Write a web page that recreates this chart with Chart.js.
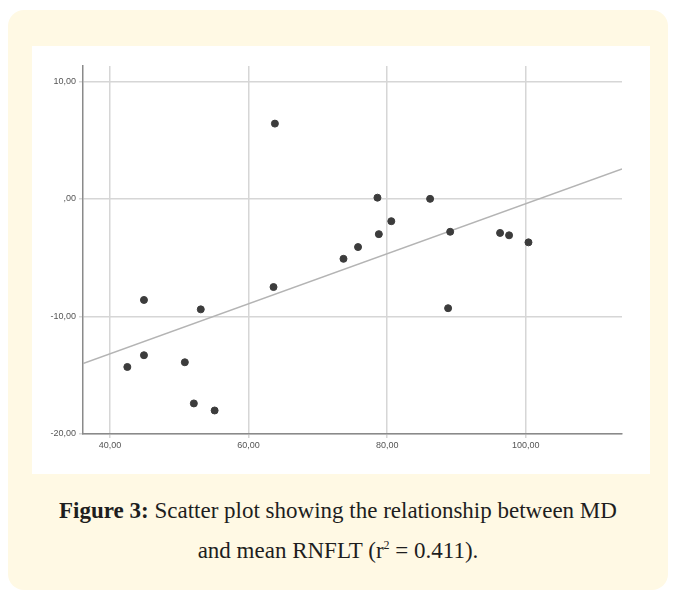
<!DOCTYPE html>
<html>
<head>
<meta charset="utf-8">
<script src="https://cdn.jsdelivr.net/npm/chart.js@4.4.0/dist/chart.umd.min.js"></script>
<style>
  html, body { margin: 0; padding: 0; background: #fff; }
  body { width: 676px; height: 602px; position: relative; overflow: hidden; }
  .card {
    position: absolute; left: 8px; top: 10px; width: 660px; height: 580px;
    background: #fff9e4; border-radius: 16px;
  }
  .plot {
    position: absolute; left: 32px; top: 46px; width: 618px; height: 428px;
    background: #fff;
  }
  .caption {
    position: absolute; left: 10px; top: 491px; width: 656px;
    text-align: center; font-family: "Liberation Serif", "DejaVu Serif", serif;
    font-size: 23px; line-height: 40px; color: #1e1e1e;
  }
  .caption b { font-weight: bold; }
  .caption sup { font-size: 12px; line-height: 0; vertical-align: 9px; }
</style>
</head>
<body>
<div class="card"></div>
<div class="plot"><canvas id="chart" width="618" height="428"></canvas></div>
<div class="caption"><b>Figure 3:</b> Scatter plot showing the relationship between MD<br>and mean RNFLT (r<sup>2</sup> = 0.411).</div>
<script>
// mean RNFLT (x) vs MD (y)
const rnflt = [63.8, 78.6, 86.2, 80.6, 78.8, 75.8, 73.7, 89.1, 96.3, 97.6, 100.4,
               63.6, 88.8, 44.9, 53.1, 44.9, 42.5, 50.8, 52.1, 55.1];
const md = [6.4, 0.1, 0.0, -1.9, -3.0, -4.1, -5.1, -2.8, -2.9, -3.1, -3.7,
            -7.5, -9.3, -8.6, -9.4, -13.3, -14.3, -13.9, -17.4, -18.0];

// fit line ends
const fitX = [36.1, 113.9];
const fitY = [-14.0, 2.55];

const xTicks = [40, 60, 80, 100];
const xTickLabels = ['40,00', '60,00', '80,00', '100,00'];
const yTicks = [-20, -10, 0, 10];
const yTickLabels = ['-20,00', '-10,00', ',00', '10,00'];

const points = rnflt.map((x, i) => ({ x, y: md[i] }));
const fit = fitX.map((x, i) => ({ x, y: fitY[i] }));

const ctx = document.getElementById('chart').getContext('2d');
const chart = new Chart(ctx, {
  type: 'scatter',
  data: {
    datasets: [
      {
        label: 'fit',
        data: fit,
        showLine: true,
        borderColor: '#b4b4b4',
        borderWidth: 1.5,
        pointRadius: 0,
        order: 2
      },
      {
        label: 'MD',
        data: points,
        backgroundColor: '#3c3c3c',
        borderColor: '#3c3c3c',
        pointRadius: 3.5,
        order: 1
      }
    ]
  },
  options: {
    responsive: false,
    animation: false,
    layout: { padding: { top: 20, right: 28, left: 0, bottom: 0 } },
    plugins: { legend: { display: false }, tooltip: { enabled: false } },
    scales: {
      x: {
        type: 'linear',
        min: 36.1,
        max: 113.9,
        afterBuildTicks: (s) => { s.ticks = xTicks.map(v => ({ value: v })); },
        afterFit: (s) => { s.height = 40; },
        ticks: {
          callback: (v) => xTickLabels[xTicks.indexOf(v)],
          color: '#555',
          font: { family: 'Liberation Sans', size: 9 },
          padding: 2,
          maxRotation: 0
        },
        grid: { color: '#d6d6d6', lineWidth: 1.5, tickLength: 4 },
        border: { color: '#8a8a8a', width: 1.5 }
      },
      y: {
        type: 'linear',
        min: -20,
        max: 11.3,
        afterBuildTicks: (s) => { s.ticks = yTicks.map(v => ({ value: v })); },
        afterFit: (s) => { s.width = 51; },
        ticks: {
          callback: (v) => yTickLabels[yTicks.indexOf(v)],
          color: '#555',
          font: { family: 'Liberation Sans', size: 9 },
          padding: 3
        },
        grid: { color: '#d6d6d6', lineWidth: 1.5, tickLength: 4 },
        border: { color: '#8a8a8a', width: 1.5 }
      }
    }
  }
});
</script>
</body>
</html>
